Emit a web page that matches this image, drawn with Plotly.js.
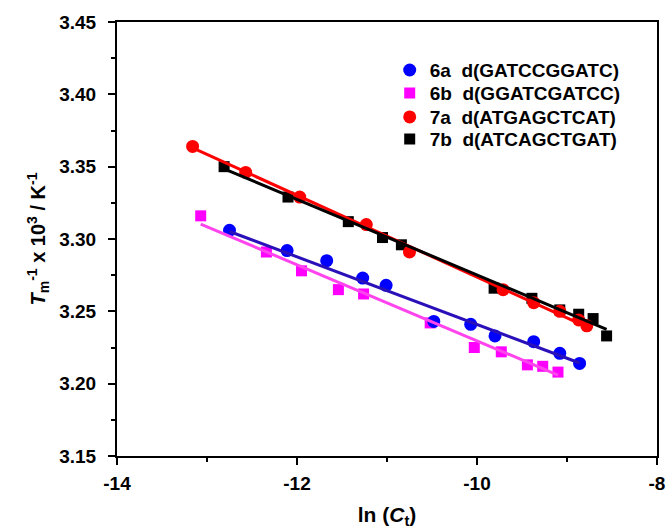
<!DOCTYPE html>
<html>
<head>
<meta charset="utf-8">
<script src="https://cdn.plot.ly/plotly-3.0.1.min.js"></script>
<style>html,body{margin:0;padding:0;background:#fff;}#chart{width:667px;height:529px;}</style>
</head>
<body>
<div id="chart"></div>
<script>
// ---- data ----
const names = ["6a\u00a0\u00a0d(GATCCGGATC)", "6b\u00a0\u00a0d(GGATCGATCC)", "7a\u00a0\u00a0d(ATGAGCTCAT)", "7b\u00a0\u00a0d(ATCAGCTGAT)"];

const x6a = [-12.75, -12.11, -11.67, -11.27, -11.01, -10.48, -10.07, -9.80, -9.37, -9.08, -8.86];
const y6a = [3.306, 3.292, 3.285, 3.273, 3.268, 3.243, 3.241, 3.233, 3.229, 3.221, 3.214];

const x6b = [-13.07, -12.34, -11.95, -11.54, -11.26, -10.52, -10.03, -9.73, -9.44, -9.27, -9.10];
const y6b = [3.316, 3.291, 3.278, 3.265, 3.262, 3.242, 3.225, 3.222, 3.213, 3.212, 3.208];

const x7a = [-13.16, -12.57, -11.97, -11.23, -10.75, -9.71, -9.37, -9.08, -8.87, -8.78];
const y7a = [3.364, 3.346, 3.329, 3.310, 3.291, 3.265, 3.256, 3.250, 3.244, 3.240];

const x7b = [-12.81, -12.10, -11.43, -11.05, -10.84, -9.81, -9.39, -9.08, -8.87, -8.71, -8.56];
const y7b = [3.350, 3.329, 3.312, 3.301, 3.296, 3.266, 3.259, 3.251, 3.248, 3.245, 3.233];

// linear-fit line end points
const fit6aX = [-12.75, -8.86], fit6aY = [3.3052, 3.2143];
const fit6bX = [-13.07, -9.10], fit6bY = [3.3103, 3.2059];
const fit7aX = [-13.16, -8.78], fit7aY = [3.3630, 3.2392];
const fit7bX = [-12.81, -8.56], fit7bY = [3.3485, 3.2376];

const xTicks = [-14, -12, -10, -8];
const yTicks = [3.15, 3.20, 3.25, 3.30, 3.35, 3.40, 3.45];

// ---- styling ----
const FONT = "Arial, Liberation Sans, sans-serif";
const cBlue = "#0000ff", cMag = "#ff00ff", cRed = "#ff0000", cBlk = "#000000";

function pts(x, y, name, color, symbol, size, leg) {
  return {x: x, y: y, name: name, type: "scatter", mode: "markers",
          marker: {color: color, symbol: symbol, size: size, line: {width: 0}},
          legend: leg, showlegend: true, cliponaxis: false};
}
function fit(x, y, color) {
  return {x: x, y: y, type: "scatter", mode: "lines", showlegend: false,
          line: {color: color, width: 3}, hoverinfo: "skip"};
}

const data = [
  pts(x6b, y6b, names[1], cMag, "square", 11, "legend2"),
  pts(x6a, y6a, names[0], cBlue, "circle", 13, "legend"),
  pts(x7b, y7b, names[3], cBlk, "square", 11, "legend4"),
  pts(x7a, y7a, names[2], cRed, "circle", 13, "legend3"),
  fit(fit6bX, fit6bY, "#ff44ee"),
  fit(fit6aX, fit6aY, "#2a10b8"),
  fit(fit7aX, fit7aY, cRed),
  fit(fit7bX, fit7bY, cBlk)
];

const axisCommon = {
  showline: true, linecolor: "#000", linewidth: 2, mirror: true,
  ticks: "outside", ticklen: 7, tickwidth: 2, tickcolor: "#000",
  showgrid: false, zeroline: false,
  tickfont: {family: FONT, size: 19, color: "#000", weight: 700}
};

function leg(yc) {
  return {x: 0.505, y: yc, xanchor: "left", yanchor: "middle",
          bgcolor: "rgba(0,0,0,0)", borderwidth: 0,
          font: {family: FONT, size: 19, color: "#000", weight: 700},
          itemsizing: "trace"};
}

const layout = {
  width: 667, height: 529,
  margin: {l: 117, r: 10, t: 22, b: 73},
  paper_bgcolor: "#fff", plot_bgcolor: "#fff",
  font: {family: FONT, color: "#000", weight: 700},
  xaxis: Object.assign({}, axisCommon, {
    range: [-14, -8], tickmode: "array", tickvals: xTicks, ticktext: xTicks.map(v => String(v)),
    ticklabelstandoff: 2,
    minor: {dtick: 1, tick0: -14, ticks: "outside", ticklen: 4, tickwidth: 2, tickcolor: "#000"},
    title: {text: "ln (<i>C</i><sub>t</sub>)", font: {family: FONT, size: 21, weight: 700}, standoff: 18}
  }),
  yaxis: Object.assign({}, axisCommon, {
    range: [3.15, 3.45], tickmode: "array", tickvals: yTicks, ticktext: yTicks.map(v => v.toFixed(2)),
    ticklabelstandoff: 8,
    minor: {dtick: 0.025, tick0: 3.15, ticks: "outside", ticklen: 4, tickwidth: 2, tickcolor: "#000"},
    title: {text: "<i>T</i><sub>m</sub><sup>-1</sup> x 10<sup>3</sup> / K<sup>-1</sup>", font: {family: FONT, size: 20, weight: 700}, standoff: 8}
  }),
  legend: leg(0.889),
  legend2: leg(0.836),
  legend3: leg(0.781),
  legend4: leg(0.730),
  showlegend: true
};

Plotly.newPlot("chart", data, layout, {displayModeBar: false, staticPlot: true});
</script>
</body>
</html>
